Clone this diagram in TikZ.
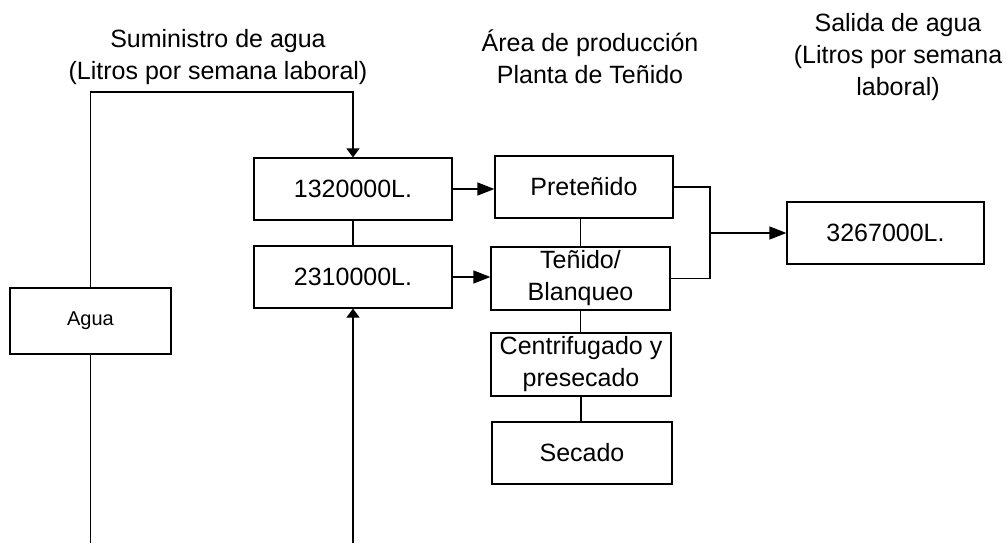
\documentclass[tikz,border=0pt]{standalone}
\usepackage{fontspec}
\setmainfont{Liberation Sans}
\usetikzlibrary{arrows.meta}

\begin{document}
\begin{tikzpicture}[x=1pt,y=-1pt,line width=1.2pt,
    caja/.style={draw,inner sep=0pt,minimum height=62pt,align=center,font=\fontsize{25}{32}\selectfont},
    titulo/.style={align=center,font=\fontsize{25}{32}\selectfont},
    flecha/.style={-{Triangle[length=17pt,width=13pt]}},
    flechav/.style={-{Triangle[length=9pt,width=13pt]}}]
    \useasboundingbox (0,0) rectangle (1008,543);
    % titulos
    \node[titulo] (tsum) at (218,57) {Suministro de agua\\(Litros por semana laboral)};
    \node[titulo] (tarea) at (590,57) {Área de producción\\Planta de Teñido};
    \node[titulo] (tsal) at (898,57) {Salida de agua\\(Litros por semana\\laboral)};
    % cajas
    \node[caja,minimum width=161pt,minimum height=66pt,font=\fontsize{20}{24}\selectfont] (agua) at (90.5,321) {Agua};
    \node[caja,minimum width=198pt] (sum1) at (353,189) {1320000L.};
    \node[caja,minimum width=198pt] (sum2) at (353,277) {2310000L.};
    \node[caja,minimum width=178pt] (pre) at (584,187) {Preteñido};
    \node[caja,minimum width=179pt,minimum height=63pt] (ten) at (580.5,278.5) {Teñido/\\Blanqueo};
    \node[caja,minimum width=180pt,minimum height=63pt] (cen) at (581,364.5) {Centrifugado y\\presecado};
    \node[caja,minimum width=180pt] (sec) at (582,453) {Secado};
    \node[caja,minimum width=197pt] (sal) at (885.5,233) {3267000L.};
    % puntos libres
    \coordinate (arriba) at (353,92);
    \coordinate (aguafin) at (90.5,543);
    \coordinate (sumfin) at (353,543);
    \coordinate (union) at (710,233);
    % conexiones
    \draw[flechav] (agua.north) |- (arriba) -- (sum1.north);
    \draw (agua.south) -- (aguafin);
    \draw[flechav] (sumfin) -- (sum2.south);
    \draw (sum1.south) -- (sum2.north);
    \draw[flecha] (sum1.east) -- (sum1.east -| pre.west);
    \draw[flecha] (sum2.east) -- (sum2.east -| ten.west);
    \draw (ten.north) -- (ten.north |- pre.south);
    \draw (ten.south) -- (ten.south |- cen.north);
    \draw (cen.south) -- (cen.south |- sec.north);
    \draw (pre.east) -| (union) |- (ten.east);
    \draw[flecha] (union) -- (sal.west);
\end{tikzpicture}
\end{document}
